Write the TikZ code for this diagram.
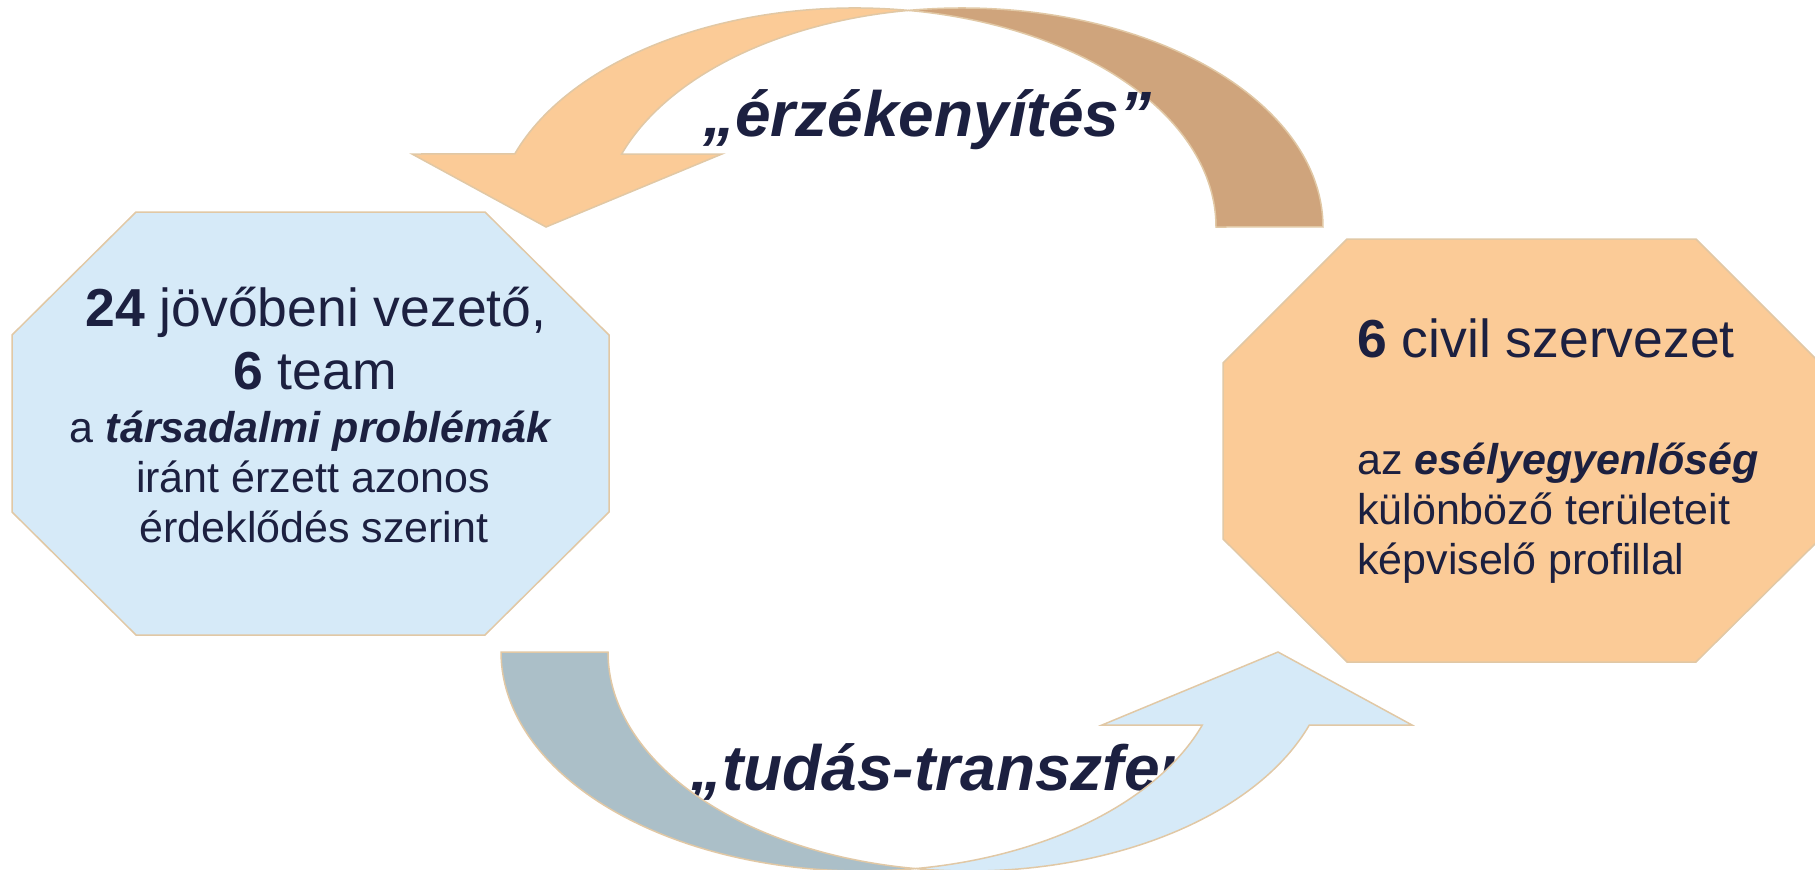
\documentclass[tikz,border=0pt]{standalone}
\usepackage{fontspec}
\setmainfont{Liberation Sans}
\definecolor{ink}{HTML}{1C2040}
\definecolor{peach}{HTML}{FBCB97}
\definecolor{tanback}{HTML}{CFA47C}
\definecolor{skyfront}{HTML}{D6EAF8}
\definecolor{slateback}{HTML}{ABBFC8}
\definecolor{rim}{HTML}{E1C8A5}
\begin{document}
\begin{tikzpicture}[x=1pt,y=1pt,
  rimline/.style={draw=rim,line width=1.5pt,line join=miter},
  bigtxt/.style={inner sep=0pt,text=ink,font=\fontsize{53.5}{60}\selectfont},
  midtxt/.style={inner sep=0pt,text=ink,font=\fontsize{43}{50}\selectfont},
  looptxt/.style={inner sep=0pt,text=ink,font=\fontsize{64}{72}\selectfont\bfseries\itshape},
  er/.style={x radius=361,y radius=219}]
\useasboundingbox (0,0) rectangle (1815,-870);
\clip (0,0) rectangle (1815,-870);

% two octagons
\path[rimline,fill=skyfront] (136,-212) -- (485,-212) -- (609,-335) -- (609,-512)
  -- (485,-635) -- (136,-635) -- (12,-512) -- (12,-335) -- cycle;
\path[rimline,fill=peach] (1347,-239) -- (1696,-239) -- (1820,-363) -- (1820,-539)
  -- (1696,-662) -- (1347,-662) -- (1223,-539) -- (1223,-363) -- cycle;

% upper curved arrow: back crescent and front crescent with head
\path[rimline,fill=tanback] (908.5,-10.4) arc[start angle=98.52,end angle=0,er]
  -- (1216,-227) arc[start angle=0,end angle=81.48,er] -- cycle;
\path[rimline,fill=peach] (908.5,-10.4) arc[start angle=81.48,end angle=160.53,er]
  -- (412,-154) -- (546,-227) -- (722,-154) -- (621.7,-154)
  arc[start angle=160.53,end angle=98.52,er] -- cycle;

\node[looptxt,anchor=base west] (sens) at (703,-136) {„érzékenyítés”};
\node[looptxt,anchor=base west] (know) at (690,-790) {„tudás-transzfer};

% lower curved arrow, the upper one turned half round
\begin{scope}[rotate around={180:(912,-439.5)}]
\path[rimline,fill=slateback] (908.5,-10.4) arc[start angle=98.52,end angle=0,er]
  -- (1216,-227) arc[start angle=0,end angle=81.48,er] -- cycle;
\path[rimline,fill=skyfront] (908.5,-10.4) arc[start angle=81.48,end angle=160.53,er]
  -- (412,-154) -- (546,-227) -- (722,-154) -- (621.7,-154)
  arc[start angle=160.53,end angle=98.52,er] -- cycle;
\end{scope}

% left octagon text
\node[bigtxt,anchor=base] (l1) at (316,-326) {\textbf{24} jövőbeni vezető,};
\node[bigtxt,anchor=base] (l2) at (315,-389) {\textbf{6} team};
\node[midtxt,anchor=base] (l3) at (311,-442) {a \textbf{\textit{társadalmi problémák}}};
\node[midtxt,anchor=base] (l4) at (313,-492) {iránt érzett azonos};
\node[midtxt,anchor=base] (l5) at (314,-542) {érdeklődés szerint};

% right octagon text
\node[bigtxt,anchor=base west] (r1) at (1357,-357) {\textbf{6} civil szervezet};
\node[midtxt,anchor=base west] (r2) at (1357,-474) {az \textbf{\textit{esélyegyenlőség}}};
\node[midtxt,anchor=base west] (r3) at (1357,-524) {különböző területeit};
\node[midtxt,anchor=base west] (r4) at (1357,-574) {képviselő profillal};
\end{tikzpicture}
\end{document}
